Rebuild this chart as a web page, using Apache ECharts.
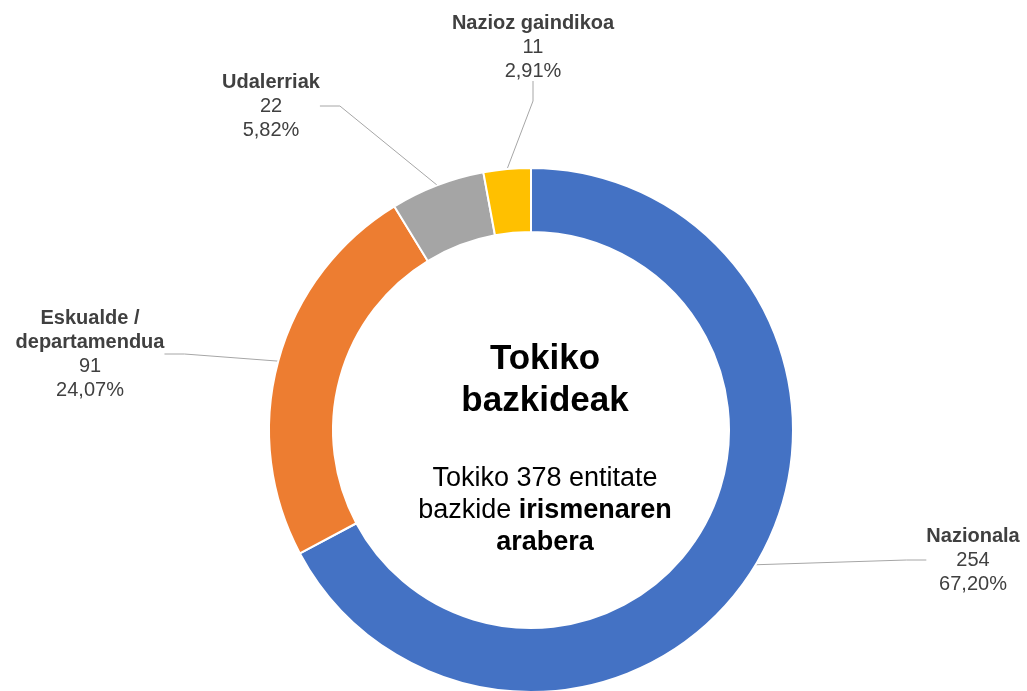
<!DOCTYPE html>
<html>
<head>
<meta charset="utf-8">
<script src="https://cdn.jsdelivr.net/npm/echarts@6/dist/echarts.min.js"></script>
<style>
  html, body { margin: 0; padding: 0; background: #fff; }
  #main { width: 1027px; height: 691px; }
</style>
</head>
<body>
<div id="main"></div>
<script>
// datuak
const categories = ['Nazionala', 'Eskualde /\ndepartamendua', 'Udalerriak', 'Nazioz gaindikoa']
const values = [254, 91, 22, 11]
const colors = ['#4472C4', '#ED7D31', '#A5A5A5', '#FFC000']
// etiketen kokapena (Excel-en eskuz jarrita)
const labelPos = [[973, 560], [90, 354], [271, 106], [533, 47]]

const total = values.reduce((a, b) => a + b, 0)
const font = "'Liberation Sans', Arial, sans-serif"

const myChart = echarts.init(document.getElementById('main'))
myChart.setOption({
  animation: false,
  title: [
    {
      text: 'Tokiko\nbazkideak',
      left: 540,
      top: 333,
      textAlign: 'center',
      textStyle: { fontFamily: font, fontSize: 35, fontWeight: 'bold', lineHeight: 42, color: '#000' }
    },
    {
      text: 'Tokiko ' + total + ' entitate\nbazkide {b|irismenaren}\n{b|arabera}',
      left: 540,
      top: 458,
      textAlign: 'center',
      textStyle: {
        fontFamily: font, fontSize: 27, fontWeight: 'normal', lineHeight: 32, color: '#000',
        rich: { b: { fontFamily: font, fontSize: 27, fontWeight: 'bold', lineHeight: 32, color: '#000' } }
      }
    }
  ],
  series: [
    {
      type: 'pie',
      center: [531, 430],
      radius: [198, 262],
      startAngle: 90,
      clockwise: true,
      itemStyle: { borderColor: '#fff', borderWidth: 2 },
      data: categories.map((c, i) => ({ name: c, value: values[i], itemStyle: { color: colors[i] } })),
      label: {
        show: true,
        formatter: p => '{n|' + p.name + '}\n{v|' + p.value + '}\n{v|' + (p.value / total * 100).toFixed(2).replace('.', ',') + '%}',
        align: 'center',
        rich: {
          n: { fontFamily: font, fontSize: 20, fontWeight: 'bold', lineHeight: 24, color: '#404040', align: 'center' },
          v: { fontFamily: font, fontSize: 20, lineHeight: 24, color: '#404040', align: 'center' }
        }
      },
      labelLine: { show: true, length: 20, length2: 20, lineStyle: { color: '#A6A6A6', width: 1 } },
      labelLayout: p => ({
        x: labelPos[p.dataIndex][0],
        y: labelPos[p.dataIndex][1],
        align: 'center',
        verticalAlign: 'middle'
      })
    }
  ]
})
</script>
</body>
</html>
